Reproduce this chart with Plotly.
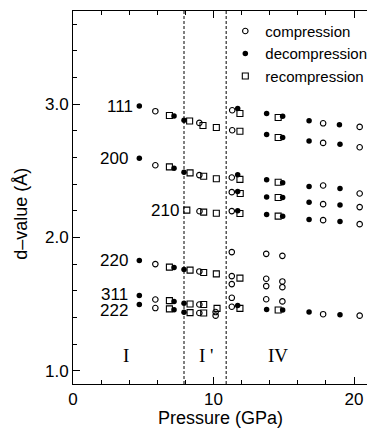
import plotly.graph_objects as go

# ---- data (pressure in GPa, d-value in Angstrom) ----
comp_p = [5.86, 8.99, 11.33, 11.33, 17.8, 20.4, 17.8, 20.4,
          5.86, 8.99, 11.3, 11.3, 17.8, 20.4,
          17.8, 20.4, 17.8, 20.4,
          9.0, 11.3,
          11.3, 13.75, 14.9,
          5.86, 8.99, 11.3, 11.3, 13.75, 13.75, 14.9, 14.9,
          5.86, 8.99, 11.3, 13.75, 14.9,
          5.86, 8.99, 11.3, 10.15, 10.15, 17.8, 20.4]
comp_d = [2.948, 2.860, 2.955, 2.805, 2.857, 2.830, 2.710, 2.677,
          2.542, 2.468, 2.450, 2.340, 2.390, 2.330,
          2.250, 2.228, 2.130, 2.100,
          2.197, 2.198,
          1.890, 1.877, 1.862,
          1.800, 1.745, 1.710, 1.650, 1.690, 1.635, 1.670, 1.627,
          1.534, 1.497, 1.547, 1.536, 1.520,
          1.470, 1.433, 1.480, 1.440, 1.413, 1.424, 1.413]

decomp_p = [4.72, 7.19, 7.9, 11.72, 13.78, 14.92, 16.8, 18.96,
            13.78, 14.92, 16.8, 19.0,
            4.72, 7.19, 7.9, 11.72, 13.78, 14.92, 16.8, 19.0,
            11.72, 13.78, 14.92, 16.8, 19.0,
            11.72, 13.78, 14.92, 16.8, 19.0,
            4.72, 7.19, 7.9,
            4.72, 7.19, 7.9,
            4.72, 7.19, 7.9, 11.72, 13.78, 14.92, 16.8, 19.0]
decomp_d = [2.987, 2.912, 2.880, 2.968, 2.930, 2.910, 2.877, 2.847,
            2.772, 2.750, 2.724, 2.700,
            2.595, 2.520, 2.490, 2.470, 2.434, 2.410, 2.383, 2.368,
            2.345, 2.303, 2.300, 2.265, 2.243,
            2.200, 2.173, 2.160, 2.134, 2.120,
            1.827, 1.775, 1.760,
            1.564, 1.520, 1.506,
            1.496, 1.457, 1.438, 1.490, 1.459, 1.456, 1.440, 1.420]

recomp_p = [6.86, 8.3, 9.25, 10.2, 11.88, 11.88, 14.6, 14.6,
            6.86, 8.33, 9.3, 10.2, 11.88, 14.6, 11.9, 14.6,
            8.1, 9.3, 10.2, 11.88, 14.6,
            6.86, 8.33, 9.3, 10.2, 11.88,
            6.86, 8.33, 9.3,
            6.86, 8.33, 9.3, 10.25, 11.88, 14.6]
recomp_d = [2.915, 2.874, 2.840, 2.826, 2.930, 2.797, 2.900, 2.750,
            2.530, 2.485, 2.459, 2.441, 2.436, 2.414, 2.330, 2.300,
            2.205, 2.190, 2.182, 2.180, 2.160,
            1.777, 1.755, 1.737, 1.727, 1.695,
            1.526, 1.500, 1.497,
            1.464, 1.436, 1.433, 1.468, 1.468, 1.456]

hkl_labels = ["111", "200", "210", "220", "311", "222"]
hkl_p = [4.4, 4.05, 7.7, 4.05, 4.05, 4.05]
hkl_d = [2.985, 2.595, 2.203, 1.827, 1.57, 1.455]

phase_labels = ["I", "I '", "IV"]
phase_p = [3.75, 9.5, 14.6]
phase_d = [1.115, 1.115, 1.115]

boundaries = [7.9, 10.9]

x_ticks = [0, 10, 20]
y_ticks = [1.0, 2.0, 3.0]

fig = go.Figure()
fig.add_trace(go.Scatter(x=comp_p, y=comp_d, mode="markers", name="compression",
                         marker=dict(symbol="circle-open", size=5.5, color="black",
                                     line=dict(width=1.1, color="black"))))
fig.add_trace(go.Scatter(x=decomp_p, y=decomp_d, mode="markers", name="decompression",
                         marker=dict(symbol="circle", size=5.5, color="black")))
fig.add_trace(go.Scatter(x=recomp_p, y=recomp_d, mode="markers", name="recompression",
                         marker=dict(symbol="square-open", size=6, color="black",
                                     line=dict(width=1.1, color="black"))))

for b in boundaries:
    fig.add_shape(type="line", x0=b, x1=b, y0=0, y1=1, xref="x", yref="paper",
                  line=dict(color="black", width=1, dash="3px,2px"))

annotations = []
for t, px, py in zip(hkl_labels, hkl_p, hkl_d):
    annotations.append(dict(x=px, y=py, xref="x", yref="y", text=t, showarrow=False,
                            xanchor="right", yanchor="middle",
                            font=dict(family="Liberation Sans, Arial", size=17, color="black")))
for t, px, py in zip(phase_labels, phase_p, phase_d):
    annotations.append(dict(x=px, y=py, xref="x", yref="y", text=t, showarrow=False,
                            xanchor="center", yanchor="middle",
                            font=dict(family="Liberation Serif, Times New Roman", size=19, color="black")))
annotations.append(dict(x=0.49, y=-0.091, xref="paper", yref="paper", text="Pressure (GPa)",
                        showarrow=False, xanchor="center", yanchor="middle",
                        font=dict(family="Liberation Sans, Arial", size=18, color="black")))
annotations.append(dict(x=-0.173, y=0.456, xref="paper", yref="paper", text="d–value (Å)",
                        showarrow=False, xanchor="center", yanchor="middle", textangle=-90,
                        font=dict(family="Liberation Sans, Arial", size=18, color="black")))

fig.update_layout(
    width=367, height=423,
    margin=dict(l=65, r=1, t=3, b=47),
    paper_bgcolor="white", plot_bgcolor="white",
    showlegend=True,
    legend=dict(x=0.506, y=0.99, xanchor="left", yanchor="top",
                bgcolor="rgba(0,0,0,0)", borderwidth=0,
                font=dict(family="Liberation Sans, Arial", size=15, color="black"),
                tracegroupgap=0, itemsizing="trace"),
    annotations=annotations,
    font=dict(family="Liberation Sans, Arial", color="black"),
)
fig.update_xaxes(range=[0, 21.42], tickvals=x_ticks, ticktext=[str(v) for v in x_ticks],
                 ticks="inside", ticklen=7, tickwidth=1, tickcolor="black",
                 minor=dict(dtick=2, tick0=0, ticks="inside", ticklen=4, tickcolor="black", showgrid=False),
                 showline=True, linecolor="black", linewidth=1, mirror="allticks",
                 showgrid=False, zeroline=False,
                 tickfont=dict(family="Liberation Sans, Arial", size=17, color="black"))
fig.update_yaxes(range=[0.9, 3.7], tickvals=y_ticks, ticktext=["1.0", "2.0", "3.0"],
                 ticks="inside", ticklen=7, tickwidth=1, tickcolor="black",
                 minor=dict(dtick=0.2, tick0=0, ticks="inside", ticklen=4, tickcolor="black", showgrid=False),
                 showline=True, linecolor="black", linewidth=1, mirror=False,
                 showgrid=False, zeroline=False,
                 tickfont=dict(family="Liberation Sans, Arial", size=17, color="black"))

fig.write_html("out.html")
